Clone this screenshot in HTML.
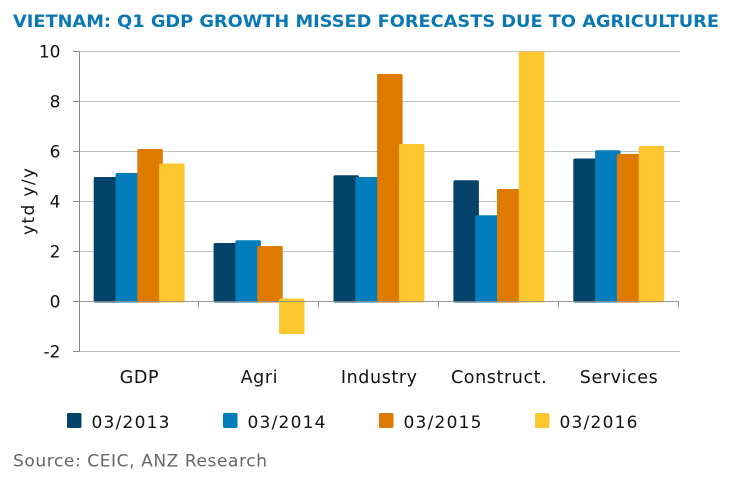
<!DOCTYPE html>
<html lang="en">
<head>
<meta charset="utf-8">
<title>Vietnam: Q1 GDP growth</title>
<style>
html,body{margin:0;padding:0;background:#fff;width:730px;height:479px;overflow:hidden}
svg{display:block}
text{font-family:"DejaVu Sans","Liberation Sans",sans-serif}
</style>
</head>
<body>
<svg id="chart" xmlns="http://www.w3.org/2000/svg" width="730" height="479" viewBox="0 0 730 479">
<text x="13" y="27" font-size="17" font-weight="700" fill="#0a78b4" textLength="706" lengthAdjust="spacingAndGlyphs">VIETNAM: Q1 GDP GROWTH MISSED FORECASTS DUE TO AGRICULTURE</text>
<text x="0" y="0" transform="translate(34 235) rotate(-90)" font-size="17" fill="#111" textLength="67">ytd y/y</text>
<text x="13" y="466.5" font-size="17" fill="#666" textLength="254">Source: CEIC, ANZ Research</text>
</svg>
<script>
const categories = ["GDP", "Agri", "Industry", "Construct.", "Services"];
const seriesNames = ["03/2013", "03/2014", "03/2015", "03/2016"];
const series2013 = [4.98, 2.34, 5.05, 4.85, 5.72];
const series2014 = [5.14, 2.45, 4.98, 3.45, 6.05];
const series2015 = [6.1, 2.22, 9.1, 4.5, 5.9];
const series2016 = [5.52, -1.3, 6.3, 10, 6.22];
const yTicks = [-2, 0, 2, 4, 6, 8, 10];

const NS = "http://www.w3.org/2000/svg";
const svg = document.getElementById("chart");
const allSeries = [series2013, series2014, series2015, series2016];
const colors = ["#03436a", "#007dba", "#df7a00", "#fdc82f"];
const plotLeft = 79.5, plotRight = 679;
const y10 = 51.5, yMinus2 = 351.5;
const yScale = v => yMinus2 - (v + 2) * (yMinus2 - y10) / 12;
const catWidth = (plotRight - plotLeft) / categories.length;
const catX = i => plotLeft + catWidth * i;

function make(tag, attrs, parent) {
  const el = document.createElementNS(NS, tag);
  for (const k in attrs) el.setAttribute(k, attrs[k]);
  (parent || svg).appendChild(el);
  return el;
}

// Gridlines and y tick labels
yTicks.forEach(t => {
  const y = yScale(t);
  if (t !== 0) {
    const grid = make("line", {x1: plotLeft, x2: plotRight + 1, y1: y, y2: y, stroke: "#bfc3c6", "stroke-width": 1});
    
    
  }
  const tick = make("line", {x1: 73, x2: plotLeft, y1: y, y2: y, stroke: "#8a8a8a", "stroke-width": 1});
  
  
  const label = make("text", {x: 60.5, y: y + 6, "text-anchor": "end", "font-size": 17, fill: "#111"});
  label.textContent = t;
  
  
});

// Bars
const barStep = 21.8, barWidth = 25.5, groupPad = 14.2, radius = 1.5;
categories.forEach((c, i) => {
  allSeries.forEach((values, s) => {
    const v = values[i];
    const x = catX(i) + groupPad + barStep * s;
    const y0 = yScale(0);
    const top = v >= 0 ? yScale(v) : y0 - 3;
    const bottom = v >= 0 ? y0 + 1 : yScale(v);
    const bar = make("rect", {x: x, y: top, width: barWidth, height: bottom - top, rx: radius, ry: radius, fill: colors[s]});
    
    
  });
});

// Axes
const yAxis = make("line", {x1: plotLeft, x2: plotLeft, y1: yScale(10), y2: yScale(-2), stroke: "#8a8a8a", "stroke-width": 1});


const xAxis = make("line", {x1: plotLeft, x2: plotRight, y1: yScale(0), y2: yScale(0), stroke: "#8a8a8a", "stroke-width": 1, "stroke-opacity": 0.85});



categories.forEach((c, i) => {
  const tx = Math.round(catX(i + 1)) - 0.5;
  const tick = make("line", {x1: tx, x2: tx, y1: yScale(0), y2: yScale(0) + 6, stroke: "#8a8a8a", "stroke-width": 1});
  
  
  const label = make("text", {x: catX(i) + catWidth / 2, y: 383, "text-anchor": "middle", "font-size": 17.5, "letter-spacing": 0.6, fill: "#111"});
  label.textContent = c;
  
  
});

// Legend
const legendStep = 156;
seriesNames.forEach((n, s) => {
  const lx = 67 + legendStep * s;
  const swatch = make("rect", {x: lx, y: 413, width: 14.5, height: 15, rx: 1.5, ry: 1.5, fill: colors[s]});
  
  
  const label = make("text", {x: lx + 24.5, y: 428, "font-size": 17, fill: "#111", textLength: 78});
  label.textContent = n;
  
  
});
</script>
</body>
</html>
